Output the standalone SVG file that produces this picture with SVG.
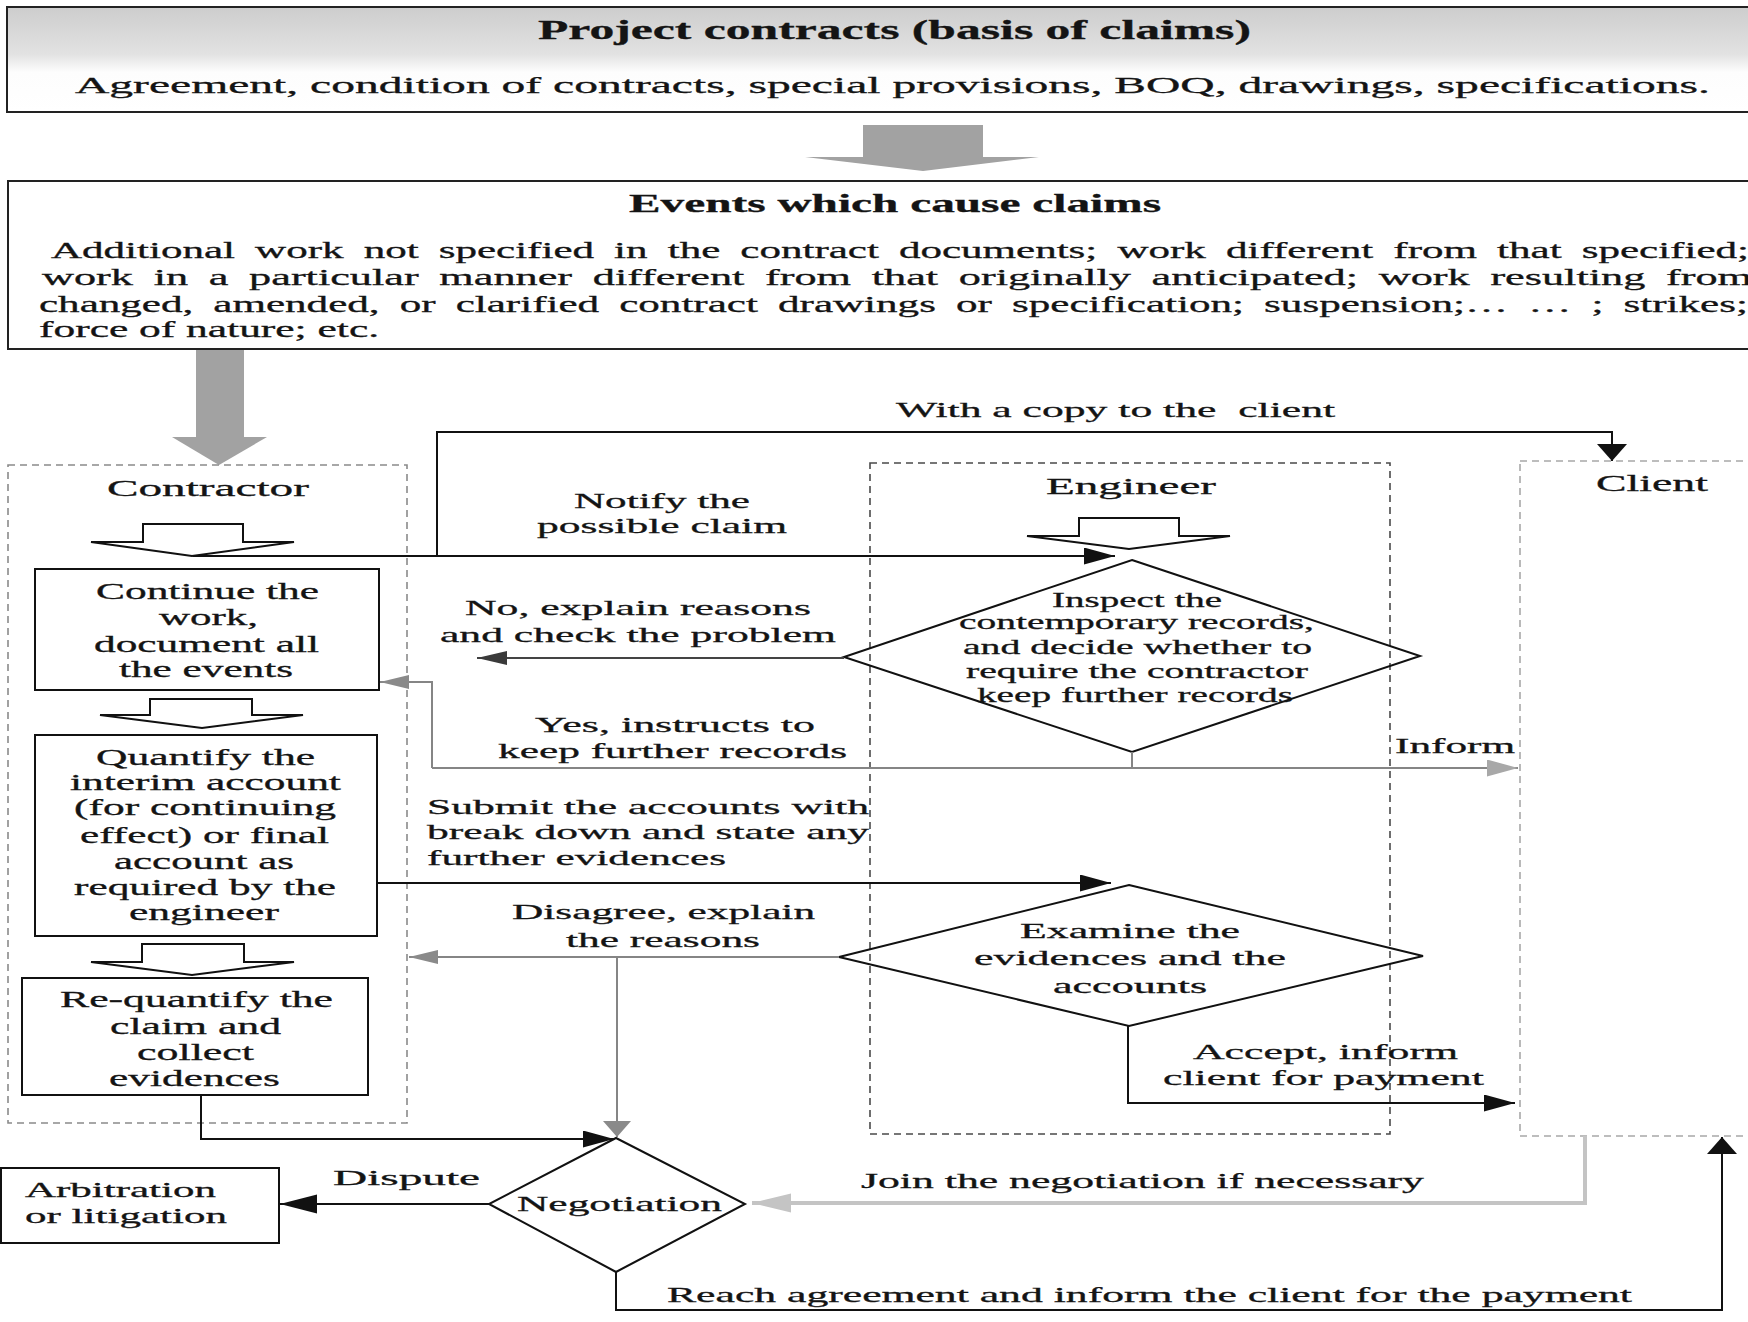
<svg xmlns="http://www.w3.org/2000/svg" width="1748" height="1322" viewBox="0 0 1748 1322">
<style>
text{font-family:"Liberation Serif","Times New Roman",serif;fill:#141414;stroke:#141414;stroke-width:0.3}
.b{font-weight:bold}
.f21{font-size:21px}.f22{font-size:22px}.f23{font-size:23px}.f24{font-size:24px}.f26{font-size:26px}.f28{font-size:28px}
.j{word-spacing:5px}
.box{fill:#fff;stroke:#111;stroke-width:2}
.dia{fill:none;stroke:#111;stroke-width:2}
.hol{fill:#fff;stroke:#111;stroke-width:2;stroke-linejoin:miter}
.big{fill:#a2a2a2}
.dash{fill:none;stroke-width:1.6;stroke-dasharray:7 5}
.ln{fill:none;stroke:#111;stroke-width:2}
.lg{fill:none;stroke:#858585;stroke-width:2}
.ldg{fill:none;stroke:#444;stroke-width:2}
.llg{fill:none;stroke:#c4c4c4;stroke-width:4}
</style>
<defs>
<linearGradient id="hdr" x1="0" y1="0" x2="0" y2="1">
<stop offset="0" stop-color="#cdcdcd"/>
<stop offset="0.45" stop-color="#e2e2e2"/>
<stop offset="0.62" stop-color="#fdfdfd"/>
<stop offset="1" stop-color="#ffffff"/>
</linearGradient>
<marker id="hk" markerUnits="userSpaceOnUse" markerWidth="32" markerHeight="18" refX="31" refY="8.5" orient="auto"><path d="M0,0 L31,8.5 L0,17 z" fill="#111"/></marker>
<marker id="hkb" markerUnits="userSpaceOnUse" markerWidth="38" markerHeight="20" refX="37" refY="9.5" orient="auto"><path d="M0,0 L37,9.5 L0,19 z" fill="#111"/></marker>
<marker id="vk" markerUnits="userSpaceOnUse" markerWidth="18" markerHeight="32" refX="17" refY="15" orient="auto"><path d="M0,0 L17,15 L0,30 z" fill="#111"/></marker>
<marker id="hdg" markerUnits="userSpaceOnUse" markerWidth="31" markerHeight="15" refX="30" refY="7" orient="auto"><path d="M0,0 L30,7 L0,14 z" fill="#3a3a3a"/></marker>
<marker id="hg" markerUnits="userSpaceOnUse" markerWidth="30" markerHeight="15" refX="29" refY="7" orient="auto"><path d="M0,0 L29,7 L0,14 z" fill="#8a8a8a"/></marker>
<marker id="hgl" markerUnits="userSpaceOnUse" markerWidth="32" markerHeight="18" refX="31" refY="8.5" orient="auto"><path d="M0,0 L31,8.5 L0,17 z" fill="#a8a8a8"/></marker>
<marker id="vg" markerUnits="userSpaceOnUse" markerWidth="17" markerHeight="30" refX="16" refY="14" orient="auto"><path d="M0,0 L16,14 L0,28 z" fill="#8a8a8a"/></marker>
<marker id="hll" markerUnits="userSpaceOnUse" markerWidth="40" markerHeight="20" refX="39" refY="9.5" orient="auto"><path d="M0,0 L39,9.5 L0,19 z" fill="#c4c4c4"/></marker>
</defs>
<rect width="1748" height="1322" fill="#fff"/>

<g id="project-contracts">
<rect x="7" y="7" width="1760" height="105" fill="url(#hdr)" stroke="#222" stroke-width="2"/>
<text class="b f28" transform="matrix(1.77 0 0 1 538 39)" textLength="402.8" lengthAdjust="spacingAndGlyphs">Project contracts (basis of claims)</text>
<text class="f24" transform="matrix(1.9 0 0 1 75 93)" textLength="860.5" lengthAdjust="spacingAndGlyphs">Agreement, condition of contracts, special provisions, BOQ, drawings, specifications.</text>
</g>

<g id="arrow-top">
<rect class="big" x="863" y="125" width="120" height="33"/>
<polygon class="big" points="805,157 1039,157 923,171"/>
</g>

<g id="events">
<rect x="8" y="181" width="1760" height="168" fill="#fff" stroke="#222" stroke-width="2"/>
<text class="b f26" transform="matrix(1.77 0 0 1 629 212)" textLength="300.6" lengthAdjust="spacingAndGlyphs">Events which cause claims</text>
<text class="f23 j" transform="matrix(1.8 0 0 1 51 258)" textLength="943.3" lengthAdjust="spacingAndGlyphs">Additional work not specified in the contract documents; work different from that specified;</text>
<text class="f23 j" transform="matrix(1.8 0 0 1 42 285)" textLength="950" lengthAdjust="spacingAndGlyphs">work in a particular manner different from that originally anticipated; work resulting from</text>
<text class="f23 j" transform="matrix(1.8 0 0 1 39 312)" textLength="949.4" lengthAdjust="spacingAndGlyphs">changed, amended, or clarified contract drawings or specification; suspension;… … ; strikes;</text>
<text class="f23" transform="matrix(1.8 0 0 1 39 337)" textLength="188.9" lengthAdjust="spacingAndGlyphs">force of nature; etc.</text>
</g>

<g id="arrow-left">
<rect class="big" x="196" y="350" width="48" height="88"/>
<polygon class="big" points="172,437 267,437 219,465"/>
</g>

<g id="contractor">
<rect class="dash" x="8" y="465" width="399" height="658" stroke="#8a8a8a"/>
<text class="f24" transform="matrix(1.9 0 0 1 107 496)" textLength="106.3" lengthAdjust="spacingAndGlyphs">Contractor</text>
<polygon class="hol" points="143,524 243,524 243,542 294,542 192,556 91,542 143,542"/>
<polygon class="hol" points="150,699 252,699 252,715 303,715 202,728 100,715 150,715"/>
<polygon class="hol" points="142,944 244,944 244,962 294,962 192,975 91,962 142,962"/>
</g>

<g id="engineer">
<rect class="dash" x="870" y="463" width="520" height="671" stroke="#4a4a4a"/>
<text class="f24" transform="matrix(1.9 0 0 1 1046 494)" textLength="89.5" lengthAdjust="spacingAndGlyphs">Engineer</text>
<polygon class="hol" points="1079,518 1179,518 1179,536 1230,536 1129,549 1027,536 1079,536"/>
</g>

<g id="client">
<rect class="dash" x="1520" y="461" width="260" height="675" stroke="#a8a8a8"/>
<text class="f24" transform="matrix(1.9 0 0 1 1596 491)" textLength="58.9" lengthAdjust="spacingAndGlyphs">Client</text>
</g>

<g id="continue-work">
<rect class="box" x="35" y="569" width="344" height="121"/>
<text class="f23" transform="matrix(1.9 0 0 1 96 599)" textLength="117.4" lengthAdjust="spacingAndGlyphs">Continue the</text>
<text class="f23" transform="matrix(1.9 0 0 1 159 625)" textLength="52.1" lengthAdjust="spacingAndGlyphs">work,</text>
<text class="f23" transform="matrix(1.9 0 0 1 94 652)" textLength="118.4" lengthAdjust="spacingAndGlyphs">document all</text>
<text class="f23" transform="matrix(1.9 0 0 1 119 677)" textLength="91.6" lengthAdjust="spacingAndGlyphs">the events</text>
</g>

<g id="quantify">
<rect class="box" x="35" y="735" width="342" height="201"/>
<text class="f23" transform="matrix(1.9 0 0 1 96 765)" textLength="115.3" lengthAdjust="spacingAndGlyphs">Quantify the</text>
<text class="f23" transform="matrix(1.9 0 0 1 70 790)" textLength="142.6" lengthAdjust="spacingAndGlyphs">interim account</text>
<text class="f23" transform="matrix(1.9 0 0 1 74 815)" textLength="137.9" lengthAdjust="spacingAndGlyphs">(for continuing</text>
<text class="f23" transform="matrix(1.9 0 0 1 80 843)" textLength="131.1" lengthAdjust="spacingAndGlyphs">effect) or final</text>
<text class="f23" transform="matrix(1.9 0 0 1 114 869)" textLength="94.7" lengthAdjust="spacingAndGlyphs">account as</text>
<text class="f23" transform="matrix(1.9 0 0 1 74 895)" textLength="137.9" lengthAdjust="spacingAndGlyphs">required by the</text>
<text class="f23" transform="matrix(1.9 0 0 1 129 920)" textLength="78.9" lengthAdjust="spacingAndGlyphs">engineer</text>
</g>

<g id="requantify">
<rect class="box" x="22" y="978" width="346" height="117"/>
<text class="f23" transform="matrix(1.9 0 0 1 60 1007)" textLength="143.7" lengthAdjust="spacingAndGlyphs">Re-quantify the</text>
<text class="f23" transform="matrix(1.9 0 0 1 110 1034)" textLength="90" lengthAdjust="spacingAndGlyphs">claim and</text>
<text class="f23" transform="matrix(1.9 0 0 1 137 1060)" textLength="61.6" lengthAdjust="spacingAndGlyphs">collect</text>
<text class="f23" transform="matrix(1.9 0 0 1 109 1086)" textLength="90" lengthAdjust="spacingAndGlyphs">evidences</text>
</g>

<g id="inspect">
<polygon class="dia" points="1132,560 1420,656 1132,752 844,657"/>
<text class="f21" transform="matrix(1.9 0 0 1 1052 607)" textLength="89.5" lengthAdjust="spacingAndGlyphs">Inspect the</text>
<text class="f21" transform="matrix(1.9 0 0 1 959 629)" textLength="186.8" lengthAdjust="spacingAndGlyphs">contemporary records,</text>
<text class="f21" transform="matrix(1.9 0 0 1 963 654)" textLength="183.7" lengthAdjust="spacingAndGlyphs">and decide whether to</text>
<text class="f21" transform="matrix(1.9 0 0 1 966 678)" textLength="180" lengthAdjust="spacingAndGlyphs">require the contractor</text>
<text class="f21" transform="matrix(1.9 0 0 1 977 702)" textLength="166.3" lengthAdjust="spacingAndGlyphs">keep further records</text>
</g>

<g id="examine">
<polygon class="dia" points="1129,885 1423,956 1129,1026 839,957"/>
<text class="f21" transform="matrix(1.9 0 0 1 1020 938)" textLength="115.8" lengthAdjust="spacingAndGlyphs">Examine the</text>
<text class="f21" transform="matrix(1.9 0 0 1 974 965)" textLength="164.2" lengthAdjust="spacingAndGlyphs">evidences and the</text>
<text class="f21" transform="matrix(1.9 0 0 1 1053 993)" textLength="81.1" lengthAdjust="spacingAndGlyphs">accounts</text>
</g>

<g id="negotiation">
<polygon class="dia" points="616,1138 745,1204 616,1272 489,1204"/>
<text class="f22" transform="matrix(1.9 0 0 1 517 1211)" textLength="107.9" lengthAdjust="spacingAndGlyphs">Negotiation</text>
</g>

<g id="arbitration">
<rect class="box" x="1" y="1168" width="278" height="75"/>
<text class="f22" transform="matrix(1.9 0 0 1 25 1197)" textLength="100.5" lengthAdjust="spacingAndGlyphs">Arbitration</text>
<text class="f22" transform="matrix(1.9 0 0 1 25 1223)" textLength="106.3" lengthAdjust="spacingAndGlyphs">or litigation</text>
</g>

<g id="connectors">
<path class="ln" d="M437,556 V432 H1612 V461" marker-end="url(#vk)"/>
<path class="ln" d="M193,556 H1115" marker-end="url(#hk)"/>
<path class="ldg" d="M844,658 H477" marker-end="url(#hdg)"/>
<path class="lg" d="M1132,752 V768"/>
<path class="lg" d="M432,768 H1518" marker-end="url(#hgl)"/>
<path class="lg" d="M432,768 V682 H380" marker-end="url(#hg)"/>
<path class="ln" d="M377,883 H1111" marker-end="url(#hk)"/>
<path class="lg" d="M839,957 H409" marker-end="url(#hg)"/>
<path class="lg" d="M617,957 V1137" marker-end="url(#vg)"/>
<path class="ln" d="M1128,1026 V1103 H1515" marker-end="url(#hk)"/>
<path class="ln" d="M201,1095 V1139 H614" marker-end="url(#hk)"/>
<path class="ln" d="M489,1204 H280" stroke-width="3" marker-end="url(#hkb)"/>
<path class="llg" d="M1585,1136 V1203 H752" marker-end="url(#hll)"/>
<path class="ln" d="M616,1272 V1310 H1722 V1137" marker-end="url(#vk)"/>
</g>

<g id="labels">
<text class="f22" transform="matrix(1.9 0 0 1 896 417)" textLength="231.1" lengthAdjust="spacingAndGlyphs" xml:space="preserve">With a copy to the  client</text>
<text class="f22" transform="matrix(1.9 0 0 1 574 508)" textLength="92.6" lengthAdjust="spacingAndGlyphs">Notify the</text>
<text class="f22" transform="matrix(1.9 0 0 1 537 533)" textLength="131.6" lengthAdjust="spacingAndGlyphs">possible claim</text>
<text class="f22" transform="matrix(1.9 0 0 1 465 615)" textLength="182.1" lengthAdjust="spacingAndGlyphs">No, explain reasons</text>
<text class="f22" transform="matrix(1.9 0 0 1 440 642)" textLength="208.4" lengthAdjust="spacingAndGlyphs">and check the problem</text>
<text class="f22" transform="matrix(1.9 0 0 1 535 732)" textLength="147.4" lengthAdjust="spacingAndGlyphs">Yes, instructs to</text>
<text class="f22" transform="matrix(1.9 0 0 1 498 758)" textLength="183.7" lengthAdjust="spacingAndGlyphs">keep further records</text>
<text class="f22" transform="matrix(1.9 0 0 1 1395 753)" textLength="63.2" lengthAdjust="spacingAndGlyphs">Inform</text>
<text class="f22" transform="matrix(1.9 0 0 1 427 814)" textLength="232.6" lengthAdjust="spacingAndGlyphs">Submit the accounts with</text>
<text class="f22" transform="matrix(1.9 0 0 1 427 839)" textLength="232.6" lengthAdjust="spacingAndGlyphs">break down and state any</text>
<text class="f22" transform="matrix(1.9 0 0 1 427 865)" textLength="157.4" lengthAdjust="spacingAndGlyphs">further evidences</text>
<text class="f22" transform="matrix(1.9 0 0 1 512 919)" textLength="159.5" lengthAdjust="spacingAndGlyphs">Disagree, explain</text>
<text class="f22" transform="matrix(1.9 0 0 1 566 947)" textLength="102.1" lengthAdjust="spacingAndGlyphs">the reasons</text>
<text class="f22" transform="matrix(1.9 0 0 1 1193 1059)" textLength="139.5" lengthAdjust="spacingAndGlyphs">Accept, inform</text>
<text class="f22" transform="matrix(1.9 0 0 1 1163 1085)" textLength="168.9" lengthAdjust="spacingAndGlyphs">client for payment</text>
<text class="f22" transform="matrix(1.9 0 0 1 333 1185)" textLength="77.4" lengthAdjust="spacingAndGlyphs">Dispute</text>
<text class="f22" transform="matrix(1.9 0 0 1 861 1188)" textLength="296.3" lengthAdjust="spacingAndGlyphs">Join the negotiation if necessary</text>
<text class="f22" transform="matrix(1.9 0 0 1 667 1302)" textLength="507.9" lengthAdjust="spacingAndGlyphs">Reach agreement and inform the client for the payment</text>
</g>
</svg>
